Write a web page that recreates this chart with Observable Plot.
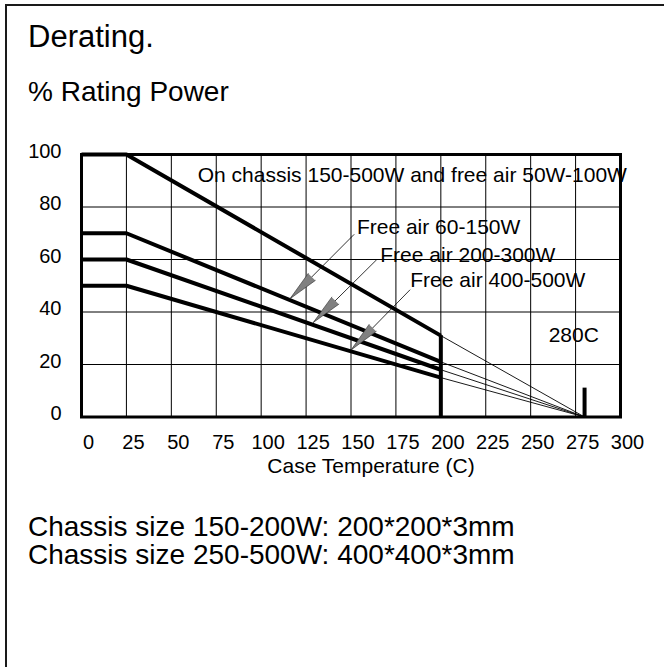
<!DOCTYPE html>
<html>
<head>
<meta charset="utf-8">
<script src="https://cdn.jsdelivr.net/npm/d3@7"></script>
<script src="https://cdn.jsdelivr.net/npm/@observablehq/plot@0.6"></script>
<style>
  html, body { margin: 0; padding: 0; background: #fff; }
  body { width: 664px; height: 667px; position: relative; overflow: hidden;
         font-family: "Liberation Sans", Arial, Helvetica, sans-serif; color: #000; }
  #border { position: absolute; left: 5px; top: 4px; width: 670px; height: 680px;
            border-top: 2px solid #1a1a1a; border-left: 2px solid #1a1a1a; }
  .t { position: absolute; left: 28px; white-space: nowrap; line-height: 1; }
  #title { top: 20.5px; font-size: 31px; }
  #sub { top: 78px; font-size: 28px; }
  #chart { position: absolute; left: 0; top: 130px; }
  #cap { top: 513px; font-size: 28px; }
  #cap div { height: 28px; line-height: 28px; }
</style>
</head>
<body>
<div id="border"></div>
<div class="t" id="title">Derating.</div>
<div class="t" id="sub">% Rating Power</div>
<div id="chart"></div>
<div class="t" id="cap"></div>
<script>
// ---------- data ----------
const seriesNames = [
  "On chassis 150-500W and free air 50W-100W",
  "Free air 60-150W",
  "Free air 200-300W",
  "Free air 400-500W"
];
const kneeTemps = [0, 25, 200];          // flat until 25 C, linear derate to 200 C
const startPct = [100, 70, 60, 50];       // % rating below 25 C
const endPct = [31, 21, 18, 15];          // % rating at 200 C
const cutoffTemp = 200;
const zeroTemp = 280;
const zeroMarkerPct = 11;
const xTicks = [0, 25, 50, 75, 100, 125, 150, 175, 200, 225, 250, 275, 300];
const yTicks = [0, 20, 40, 60, 80, 100];
const xLabel = "Case Temperature (C)";
const zeroLabel = "280C";
// annotation label anchors (temp, pct)
const labelTemps = [64.7, 153.3, 166.3, 183];
const labelPcts = [92, 72.3, 61.6, 52];
// leader lines: from (near label) to arrow tip on curve
const leaderFromTemps = [151.8, 164.4, 182.9];
const leaderFromPcts = [69.6, 60, 48.5];
const tipTemps = [116, 129, 150];
const tipPcts = [45, 36, 25.5];
const zeroLabelTemp = 260;
const zeroLabelPct = 31;
const captionLines = [
  "Chassis size 150-200W: 200*200*3mm",
  "Chassis size 250-500W: 400*400*3mm"
];

// ---------- build tables ----------
const curveRows = [];
seriesNames.forEach((s, i) => {
  curveRows.push({s, t: kneeTemps[0], p: startPct[i]});
  curveRows.push({s, t: kneeTemps[1], p: startPct[i]});
  curveRows.push({s, t: kneeTemps[2], p: endPct[i]});
});
const tailRows = seriesNames.map((s, i) => ({s, t1: cutoffTemp, p1: endPct[i], t2: zeroTemp, p2: 0}));
const labelRows = seriesNames.map((s, i) => ({s, t: labelTemps[i], p: labelPcts[i]}));
const arrowRows = tipTemps.map((t, i) => ({
  s: seriesNames[i + 1], t, p: tipPcts[i], ft: leaderFromTemps[i], fp: leaderFromPcts[i]
}));

const W = 664, H = 360;
const mL = 81, mR = 44, mT = 24, mB = 73.5;
const kx = (W - mL - mR) / 300, ky = (H - mT - mB) / 100;
arrowRows.forEach(d => {
  const dxp = (d.t - d.ft) * kx;
  const dyp = -(d.p - d.fp) * ky;
  d.rot = Math.atan2(dxp, -dyp) * 180 / Math.PI;
});

const font = '"Liberation Sans", Arial, Helvetica, sans-serif';

const chart = Plot.plot({
  width: W, height: H,
  marginLeft: mL, marginRight: mR, marginTop: mT, marginBottom: mB,
  style: { fontFamily: font, color: "#000", background: "transparent", overflow: "visible" },
  x: { domain: [0, 300] },
  y: { domain: [0, 100] },
  marks: [
    Plot.gridX(xTicks, { stroke: "#000", strokeOpacity: 1, strokeWidth: 1 }),
    Plot.gridY(yTicks, { stroke: "#000", strokeOpacity: 1, strokeWidth: 1 }),
    Plot.axisX(xTicks, { tickSize: 0, tickPadding: 18, fontSize: 20, dx: 7, label: null }),
    Plot.axisY(yTicks, { tickSize: 0, tickPadding: 20, fontSize: 20, dy: -3, label: null }),
    Plot.text([xLabel], { frameAnchor: "bottom", lineAnchor: "bottom", fontSize: 21, dx: 20, dy: 56 }),
    Plot.link(tailRows, { x1: "t1", y1: "p1", x2: "t2", y2: "p2", stroke: "#000", strokeWidth: 0.9 }),
    Plot.line(curveRows, { x: "t", y: "p", z: "s", stroke: "#000", strokeWidth: 4,
                           strokeLinecap: "butt", strokeLinejoin: "miter" }),
    Plot.ruleX([cutoffTemp], { y1: 0, y2: endPct[0], stroke: "#000", strokeWidth: 4 }),
    Plot.ruleX([zeroTemp], { y1: 0, y2: zeroMarkerPct, stroke: "#000", strokeWidth: 4 }),
    Plot.frame({ stroke: "#000", strokeWidth: 3 }),
    Plot.link(arrowRows, { x1: "t", y1: "p", x2: "ft", y2: "fp", stroke: "#000", strokeWidth: 0.8 }),
    Plot.vector(arrowRows, { x: "t", y: "p", rotate: "rot", length: 31, r: 5, shape: "spike",
                             anchor: "end", fill: "#808080", stroke: "#333", strokeWidth: 0.6 }),
    Plot.text(labelRows, { x: "t", y: "p", text: "s", textAnchor: "start", fontSize: 21 }),
    Plot.text([zeroLabel], { x: () => zeroLabelTemp, y: () => zeroLabelPct, textAnchor: "start", fontSize: 21 })
  ]
});
document.getElementById("chart").appendChild(chart);
const cap = document.getElementById("cap");
captionLines.forEach(line => {
  const d = document.createElement("div");
  d.textContent = line;
  cap.appendChild(d);
});
</script>
</body>
</html>
